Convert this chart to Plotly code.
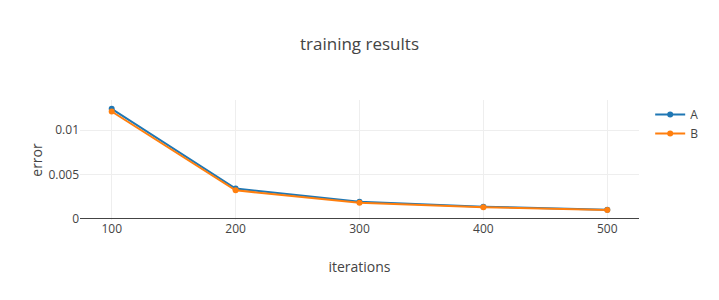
import plotly.graph_objects as go

iterations = [100, 200, 300, 400, 500]
error_a = [0.0124, 0.0034, 0.0019, 0.00135, 0.00102]
error_b = [0.0121, 0.0032, 0.0018, 0.0013, 0.00098]

fig = go.Figure()
fig.add_trace(go.Scatter(x=iterations, y=error_a, mode="lines+markers", name="A",
                         line=dict(color="#1f77b4", width=2), marker=dict(size=6)))
fig.add_trace(go.Scatter(x=iterations, y=error_b, mode="lines+markers", name="B",
                         line=dict(color="#ff7f0e", width=2), marker=dict(size=6)))

fig.update_layout(
    template="none",
    width=719, height=300,
    title=dict(text="training results", x=0.5, xanchor="center"),
    font=dict(family="Open Sans", color="#444"),
    xaxis=dict(title=dict(text="iterations"), showgrid=True, gridcolor="#eee", zeroline=False),
    yaxis=dict(title=dict(text="error"), showgrid=True, gridcolor="#eee",
               zeroline=True, zerolinecolor="#444", range=[-0.00015, 0.0134]),
    margin=dict(t=100, b=80, l=80, r=80),
    paper_bgcolor="white", plot_bgcolor="white",
)
fig.write_html("out.html")
